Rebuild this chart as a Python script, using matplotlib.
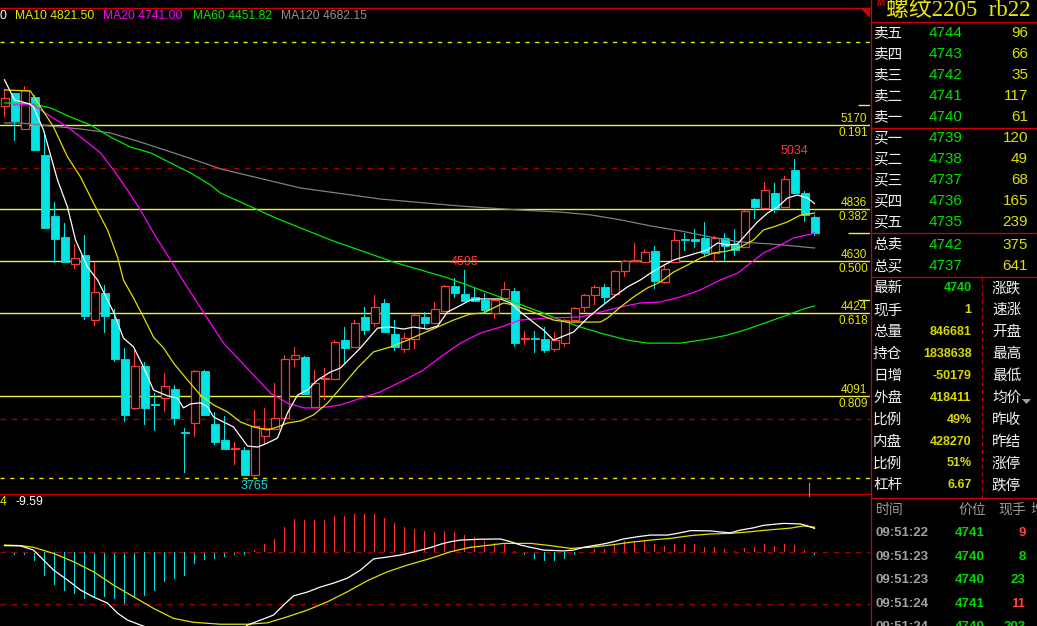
import numpy as np
import matplotlib
matplotlib.use("Agg")
import matplotlib.pyplot as plt
from matplotlib.transforms import offset_copy

plt.rcParams["font.family"] = ["Liberation Sans", "Noto Sans CJK SC", "DejaVu Sans"]

W, H = 1037, 626
RED = "#ff3838"
CYAN = "#00e4e4"
YEL = "#e6e600"
FIB = "#f0f040"
GRID = "#a00000"
BORDER = "#d00000"
CJK = ["Noto Sans CJK SC", "DejaVu Sans"]

# daily candles, oldest first
opens = [5248, 5297, 5155, 5284, 5051, 4808, 4725, 4616, 4653, 4394,
         4502, 4398, 4239, 4045, 4211, 4058, 4083, 4119, 3947, 3985,
         4191, 3980, 3916, 3879, 3876, 3775, 3933, 3961, 4005, 4239,
         4247, 4049, 4158, 4160, 4315, 4288, 4406, 4381, 4462, 4338,
         4279, 4320, 4407, 4381, 4431, 4530, 4498, 4486, 4474, 4423,
         4481, 4510, 4317, 4321, 4319, 4278, 4301, 4394, 4447, 4493,
         4526, 4497, 4588, 4631, 4624, 4669, 4545, 4624, 4718, 4716,
         4722, 4660, 4720, 4696, 4686, 4876, 4839, 4901, 4846, 4992,
         4901, 4803]
highs = [5310, 5300, 5326, 5290, 5144, 4864, 4781, 4697, 4733, 4626,
         4534, 4438, 4283, 4275, 4228, 4103, 4183, 4135, 3964, 4195,
         4195, 4028, 4012, 3908, 3889, 4036, 4045, 4143, 4255, 4287,
         4250, 4195, 4203, 4315, 4368, 4394, 4447, 4494, 4478, 4394,
         4342, 4418, 4427, 4466, 4534, 4562, 4595, 4522, 4501, 4478,
         4544, 4522, 4352, 4352, 4365, 4347, 4398, 4447, 4497, 4534,
         4538, 4592, 4633, 4700, 4676, 4689, 4613, 4746, 4740, 4756,
         4786, 4729, 4740, 4756, 4832, 4881, 4944, 4939, 4968, 5034,
         4908, 4813]
lows = [5204, 5108, 5151, 5067, 4759, 4621, 4622, 4597, 4394, 4370,
        4344, 4227, 3989, 4035, 3976, 3953, 4029, 3976, 3785, 3928,
        4012, 3896, 3878, 3817, 3775, 3765, 3900, 3955, 4000, 4208,
        4098, 4045, 4075, 4155, 4223, 4284, 4334, 4366, 4345, 4271,
        4263, 4279, 4358, 4378, 4428, 4482, 4468, 4468, 4418, 4398,
        4478, 4288, 4295, 4264, 4263, 4267, 4288, 4390, 4427, 4454,
        4461, 4481, 4567, 4628, 4620, 4517, 4536, 4620, 4669, 4680,
        4649, 4626, 4629, 4649, 4680, 4797, 4835, 4819, 4842, 4898,
        4786, 4729]
closes = [5277, 5188, 5310, 5071, 4762, 4717, 4626, 4640, 4410, 4506,
          4411, 4239, 4017, 4211, 4045, 4054, 4131, 4005, 3943, 4191,
          4016, 3909, 3881, 3883, 3777, 3972, 3964, 4004, 4239, 4253,
          4101, 4143, 4162, 4307, 4284, 4381, 4354, 4447, 4348, 4288,
          4323, 4414, 4381, 4438, 4530, 4503, 4471, 4471, 4434, 4474,
          4518, 4304, 4321, 4317, 4275, 4315, 4394, 4441, 4493, 4526,
          4487, 4588, 4629, 4635, 4664, 4551, 4598, 4713, 4714, 4709,
          4662, 4720, 4690, 4673, 4828, 4846, 4912, 4842, 4955, 4901,
          4813, 4740]

# moving averages (bar index, price)
ma5_x = [0, 1.0, 2.5, 2.9, 3.9, 5.3, 6.3, 7.1, 8.3, 9.3, 10.9, 11.9, 12.9, 13.9, 14.9,
         16.3, 17.3, 17.9, 18.6, 19.6, 20.3, 20.9, 21.9, 22.9, 24.3, 25.3, 26.3, 27.3,
         28.3, 29.3, 30.3, 31.3, 32.6, 33.6, 35.6, 37.3, 38.6, 39.9, 40.9, 42.3, 43.3,
         44.3, 45.3, 46.6, 47.6, 49.6, 50.6, 51.6, 52.6, 53.9, 54.9, 56.9, 58.3, 59.6,
         60.9, 62.3, 63.6, 64.6, 65.6, 66.9, 67.9, 68.9, 70.3, 71.3, 72.3, 73.3, 74.3,
         75.3, 76.3, 77.3, 78.3, 79.3, 80.3, 81.0]
ma5_y = [5351, 5271, 5255, 5243, 5151, 4952, 4844, 4713, 4605, 4554, 4426, 4322, 4287,
         4207, 4115, 4092, 4083, 4044, 4060, 4064, 4048, 4008, 3988, 3968, 3892, 3888,
         3904, 3924, 4024, 4095, 4115, 4155, 4187, 4203, 4283, 4362, 4366, 4358, 4366,
         4358, 4370, 4426, 4446, 4474, 4478, 4478, 4462, 4426, 4394, 4354, 4314, 4346,
         4402, 4446, 4486, 4526, 4554, 4581, 4605, 4633, 4645, 4657, 4673, 4701, 4693,
         4697, 4741, 4785, 4820, 4844, 4880, 4892, 4880, 4858]
ma10_x = [0, 2.6, 3.6, 4.9, 6.3, 7.6, 8.9, 10.3, 11.3, 11.9, 12.9, 13.9, 14.9, 15.9, 16.9,
          18.3, 19.6, 20.9, 22.3, 23.6, 24.9, 26.3, 27.3, 28.3, 29.6, 30.9, 32.3, 33.6,
          35.3, 36.9, 38.6, 40.3, 41.9, 43.3, 44.9, 46.6, 47.9, 48.9, 49.9, 50.9, 52.3,
          53.6, 54.9, 56.3, 59.6, 60.3, 61.6, 62.9, 64.3, 65.6, 66.9, 68.3, 69.6, 70.9,
          72.3, 73.6, 74.9, 75.9, 76.9, 78.3, 79.6, 81.0]
ma10_y = [5311, 5306, 5243, 5163, 5044, 4964, 4860, 4753, 4645, 4553, 4482, 4406, 4326,
          4283, 4223, 4155, 4095, 4056, 4028, 3988, 3968, 3956, 3968, 3984, 3992, 4016,
          4063, 4123, 4203, 4267, 4287, 4314, 4342, 4366, 4394, 4418, 4422, 4442, 4462,
          4454, 4434, 4414, 4394, 4386, 4386, 4402, 4446, 4486, 4522, 4546, 4585, 4613,
          4641, 4661, 4669, 4685, 4713, 4753, 4765, 4785, 4812, 4820]
ma20_x = [0.9, 2.9, 3.9, 6.3, 7.6, 9.6, 10.9, 12.3, 13.6, 14.9, 16.6, 17.8, 19.3, 20.6,
          21.9, 23.3, 24.9, 26.6, 28.3, 29.9, 31.6, 33.6, 37.6, 39.6, 41.9, 43.6, 45.6,
          47.6, 49.6, 51.6, 54.3, 57.6, 59.6, 61.6, 63.6, 65.6, 67.6, 69.6, 71.6, 73.3,
          74.6, 75.9, 77.6, 78.9, 80.3, 81.0]
ma20_y = [5251, 5251, 5223, 5163, 5123, 5060, 4992, 4912, 4832, 4741, 4633, 4554, 4462,
          4382, 4302, 4243, 4175, 4103, 4063, 4044, 4044, 4056, 4108, 4147, 4195, 4247,
          4302, 4342, 4366, 4394, 4402, 4406, 4426, 4446, 4462, 4466, 4486, 4514, 4554,
          4581, 4621, 4661, 4693, 4721, 4733, 4741]
ma60_x = [0, 2.9, 4.6, 6.6, 8.6, 10.6, 12.6, 14.6, 16.6, 18.6, 20.6, 21.6, 27.1, 32.6,
          38.9, 44.3, 47.6, 50.9, 53.6, 55.6, 57.6, 59.6, 62.3, 64.3, 67.6, 70.3, 72.3,
          74.3, 76.3, 78.3, 79.9, 81.0]
ma60_y = [5259, 5255, 5239, 5203, 5171, 5123, 5083, 5060, 5020, 4980, 4932, 4900, 4801,
          4713, 4625, 4562, 4514, 4466, 4426, 4394, 4366, 4342, 4314, 4302, 4302, 4318,
          4334, 4358, 4386, 4414, 4438, 4450]
ma120_x = [0, 1.6, 5.6, 7.6, 10.6, 13.6, 16.6, 19.6, 21.6, 29.6, 37.6, 45.6, 51.6, 55.6,
           58.6, 61.6, 64.6, 67.6, 70.6, 73.6, 76.6, 78.9, 81.0]
ma120_y = [5179, 5179, 5163, 5155, 5139, 5103, 5064, 5024, 4996, 4920, 4876, 4848, 4832,
           4824, 4813, 4793, 4769, 4749, 4725, 4705, 4697, 4689, 4681]

# header: the MA5 value is cut at the left edge, only its last digit shows
ma_labels = ["0", "MA10 4821.50", "MA20 4741.00", "MA60 4451.82", "MA120 4682.15"]

# golden section levels
fib_prices = [5170, 4836, 4630, 4424, 4091]
fib_ratios = ["0.191", "0.382", "0.500", "0.618", "0.809"]
swing_levels = [5503, 3765]
grid_levels = [5000, 4000]
axis_ticks = [5251, 4741, 4474]
peak_idx = [79, 46]
peak_val = [5034, 4595]
trough_idx = [25]
trough_val = [3765]

# MACD
macd_hist = [-4, -12, -10, -33, -85, -118, -141, -150, -169, -166,
             -162, -168, -190, -166, -159, -141, -109, -97, -85, -42,
             -28, -24, -19, -12, -12, 8, 30, 48, 91, 120,
             116, 116, 116, 129, 131, 138, 138, 138, 123, 103,
             89, 83, 77, 73, 77, 73, 61, 55, 41, 32,
             32, 3, -12, -24, -33, -33, -24, -12, 0, 12,
             12, 26, 39, 41, 44, 30, 23, 30, 30, 30,
             19, 19, 12, 3, 15, 19, 30, 23, 30, 26,
             8, -9.59]
dif_x = [0, 1.6, 2.9, 3.9, 4.9, 6.3, 7.6, 8.9, 10.3, 11.3, 12.3, 13.6, 15.6, 18.6, 21.6,
         23.6, 24.3, 25.6, 26.9, 27.9, 28.9, 30.3, 31.6, 32.9, 34.3, 35.6, 36.9, 38.3,
         39.6, 40.9, 42.6, 43.6, 44.6, 45.6, 47.6, 49.6, 50.6, 51.6, 52.6, 53.9, 55.9,
         56.9, 57.9, 58.9, 59.9, 60.9, 61.9, 63.3, 64.6, 66.3, 67.3, 68.6, 70.6, 71.6,
         72.6, 73.6, 74.9, 75.9, 77.9, 79.6, 80.3, 81.0]
dif_y = [23, 22, 7, -29, -65, -101, -137, -162, -184, -220, -245, -263, -288, -310, -302,
         -281, -263, -245, -227, -191, -158, -144, -126, -112, -94, -65, -25, -18, -11, 0,
         16, 28, 37, 43, 46, 47, 37, 25, 17, 7, 4, 7, 17, 23, 29, 37, 47, 55, 61, 61, 67,
         77, 76, 72, 69, 79, 87, 96, 103, 101, 94, 85]
dea_x = [0, 1.6, 2.9, 4.9, 6.9, 8.9, 10.9, 12.9, 14.9, 16.9, 18.9, 21.6, 24.3, 26.3, 28.3,
         30.3, 32.3, 34.3, 36.3, 38.3, 40.3, 42.6, 44.6, 46.6, 48.6, 49.9, 52.6, 54.6,
         56.6, 58.6, 60.6, 62.6, 64.6, 66.6, 68.6, 70.6, 72.6, 74.6, 76.6, 78.6, 79.9, 81.0]
dea_y = [25, 23, 17, -5, -35, -71, -119, -161, -203, -239, -253, -260, -260, -255, -233,
         -209, -179, -143, -103, -71, -47, -23, 1, 17, 25, 31, 31, 23, 13, 17, 25, 35, 43,
         49, 59, 65, 67, 73, 80, 86, 94, 89]
macd_labels = ["4", "-9.59"]

# quote panel
title = "螺纹2205  rb22"
book_labels = ["卖五", "卖四", "卖三", "卖二", "卖一", "买一", "买二", "买三", "买四", "买五"]
book_prices = [4744, 4743, 4742, 4741, 4740, 4739, 4738, 4737, 4736, 4735]
book_vols = [96, 66, 35, 117, 61, 120, 49, 68, 165, 239]
total_labels = ["总卖", "总买"]
total_prices = [4742, 4737]
total_vols = [375, 641]
stat_labels = ["最新", "现手", "总量", "持仓", "日增", "外盘", "比例", "内盘", "比例", "杠杆"]
stat_values = ["4740", "1", "846681", "1838638", "-50179", "418411", "49%", "428270", "51%", "6.67"]
stat_right = ["涨跌", "速涨", "开盘", "最高", "最低", "均价", "昨收", "昨结", "涨停", "跌停"]
tick_head = ["时间", "价位", "现手", "增"]
tick_times = ["09:51:22", "09:51:23", "09:51:23", "09:51:24", "09:51:24"]
tick_prices = [4741, 4740, 4740, 4741, 4740]
tick_vols = [9, 8, 23, 11, 203]
tick_side = ["B", "S", "S", "B", "S"]

fig = plt.figure(figsize=(W / 100, H / 100), dpi=100, facecolor="black")


def box(x0, y0, x1, y1):
    return [x0 / W, 1 - y1 / H, (x1 - x0) / W, (y1 - y0) / H]


# ---- main candle chart
ax = fig.add_axes(box(0, 8, 870, 494))
ax.set_xlim(-0.45, 86.55)
ax.set_ylim(3701, 5637)
ax.axis("off")

for p in grid_levels:
    ax.axhline(p, color=GRID, lw=1, ls=(0, (4, 4)))
for p in swing_levels:
    ax.axhline(p, color=YEL, lw=1, ls=(0, (3, 4)))
for p in fib_prices:
    ax.axhline(p, color=FIB, lw=1)
ax.hlines(axis_ticks, [85.3, 84.3, 85.3], 86.55, color=FIB, lw=1)

trans = ax.get_yaxis_transform()
above = offset_copy(trans, fig=fig, x=0, y=3, units="dots")
below = offset_copy(trans, fig=fig, x=0, y=-2, units="dots")
for p, r in zip(fib_prices, fib_ratios):
    ax.text(0.997, p, str(p), transform=above, ha="right", va="baseline", color=YEL, fontsize=8.5)
    ax.text(0.998, p, r, transform=below, ha="right", va="top", color=YEL, fontsize=8.5)

idx = np.arange(len(closes))
o = np.array(opens)
c = np.array(closes)
h = np.array(highs)
l = np.array(lows)
up = c >= o
body = np.maximum(np.abs(c - o), 3)
base = np.minimum(o, c)
# wicks as 1px-wide bars so they snap to whole pixels
ax.bar(idx[up], h[up] - l[up], bottom=l[up], width=0.1, color=RED, lw=0, zorder=2)
ax.bar(idx[~up], h[~up] - l[~up], bottom=l[~up], width=0.1, color=CYAN, lw=0, zorder=2)
ax.bar(idx[up], body[up], bottom=base[up], width=0.8, facecolor="black",
       edgecolor=RED, lw=0.9, zorder=3)
ax.bar(idx[~up], body[~up], bottom=base[~up], width=0.8, color=CYAN,
       edgecolor=CYAN, lw=0.6, zorder=3)

ax.plot(ma120_x, ma120_y, color="#808080", lw=0.9, zorder=4)
ax.plot(ma60_x, ma60_y, color="#00e600", lw=0.9, zorder=4)
ax.plot(ma20_x, ma20_y, color="#ff00ff", lw=0.9, zorder=4)
ax.plot(ma10_x, ma10_y, color="#e0e000", lw=0.9, zorder=4)
ax.plot(ma5_x, ma5_y, color="#ffffff", lw=0.9, zorder=4)

for i, v in zip(peak_idx, peak_val):
    ax.annotate(str(v), (i, v), xytext=(0, 2), textcoords="offset pixels",
                ha="center", va="bottom", color=RED, fontsize=9)
for i, v in zip(trough_idx, trough_val):
    ax.annotate(str(v), (i, v), xytext=(0, -2), textcoords="offset pixels",
                ha="center", va="top", color=CYAN, fontsize=9)

# ---- MACD
am = fig.add_axes(box(0, 494, 870, 626))
am.set_xlim(-0.45, 86.55)
am.set_ylim(-266.4, 208.8)
am.axis("off")
hist = np.array(macd_hist)
am.axhline(0, color=GRID, lw=1, ls=(0, (4, 4)))
am.axhline(-187, color=GRID, lw=1, ls=(0, (4, 4)))
am.bar(idx, hist, width=0.1, color=np.where(hist >= 0, "#ff3030", CYAN), lw=0)
am.plot(dea_x, dea_y, color="#e0e000", lw=0.9)
am.plot(dif_x, dif_y, color="#ffffff", lw=0.9)

# ---- overlay in pixel coordinates: frames, headers and quote panel
ov = fig.add_axes([0, 0, 1, 1])
ov.set_xlim(0, W)
ov.set_ylim(H, 0)
ov.axis("off")


def put(x, y, s, color, size, ha="left", bold=False, family=None):
    ov.text(x, y, s, color=color, fontsize=size, ha=ha, va="center",
            fontweight="bold" if bold else "normal", family=family or plt.rcParams["font.family"])


ov.plot([0, 870], [8, 8], color=BORDER, lw=0.9)
ov.plot([0, 870], [494, 494], color=BORDER, lw=0.9)
ov.plot([871, 871], [0, H], color=BORDER, lw=0.9)
ov.fill([860, 870, 870], [8, 8, 18], color=BORDER, lw=0)
ov.plot([809, 809], [483, 496], color="#909090", lw=0.8)

ma_cols = ["#ffffff", "#e6e600", "#ff00ff", "#00e600", "#909090"]
ma_pos = [0, 15, 103, 193, 281]
for lab, col, xp in zip(ma_labels, ma_cols, ma_pos):
    put(xp, 16, lab, col, 8.7)
put(0, 502, macd_labels[0], YEL, 8.7)
put(15, 502, macd_labels[1], "#ffffff", 8.7)

# panel
put(876, 3.5, "M", BORDER, 7, bold=True)
ov.text(886, 15.5, title, color="#e8e800", fontsize=16.5, ha="left", va="baseline",
        family=["Liberation Serif", "Noto Sans CJK SC"])
for yy in [22, 128, 233, 277, 498]:
    ov.plot([871, W], [yy, yy], color=BORDER, lw=0.9)
ov.plot([982, 982], [277, 498], color=BORDER, lw=0.9, ls=(0, (3, 3)))

for k, (lab, pr, vol) in enumerate(zip(book_labels, book_prices, book_vols)):
    yy = 33.3 + 21 * k
    put(873, yy, lab, "#f0f0f0", 10.5, family=CJK)
    put(929, yy, str(pr), "#00e000", 11)
    put(1028, yy, str(vol), "#e0e000", 11, ha="right")
for k, (lab, pr, vol) in enumerate(zip(total_labels, total_prices, total_vols)):
    yy = 245 + 21 * k
    put(873, yy, lab, "#f0f0f0", 10.5, family=CJK)
    put(929, yy, str(pr), "#00e000", 11)
    put(1028, yy, str(vol), "#e0e000", 11, ha="right")

for k, (lab, val, rl) in enumerate(zip(stat_labels, stat_values, stat_right)):
    yy = 288.3 + 21.9 * k
    put(873, yy, lab, "#f0f0f0", 10.5, family=CJK)
    put(971.5, yy, val, "#00d800" if k == 0 else "#d8d800", 9, ha="right", bold=True)
    put(992, yy, rl, "#f0f0f0", 10.5, family=CJK)
ov.fill([1022, 1031, 1026.5], [399, 399, 404], color="#a0a0a0", lw=0)

head_x = [876, 958, 998, 1030]
for hx, hs in zip(head_x, tick_head):
    put(hx, 510, hs, "#9a9a9a", 10, family=CJK)
for k, (t, pr, vol, sd) in enumerate(zip(tick_times, tick_prices, tick_vols, tick_side)):
    yy = 533.3 + 23.5 * k
    put(876, yy, t, "#a0a0a0", 9.5, bold=True)
    put(985, yy, str(pr), "#00d800", 9.5, ha="right", bold=True)
    put(1025.5, yy, str(vol), "#ff4040" if sd == "B" else "#00d800", 9.5, ha="right", bold=True)

fig.savefig("out.png", dpi=100, facecolor="black")
